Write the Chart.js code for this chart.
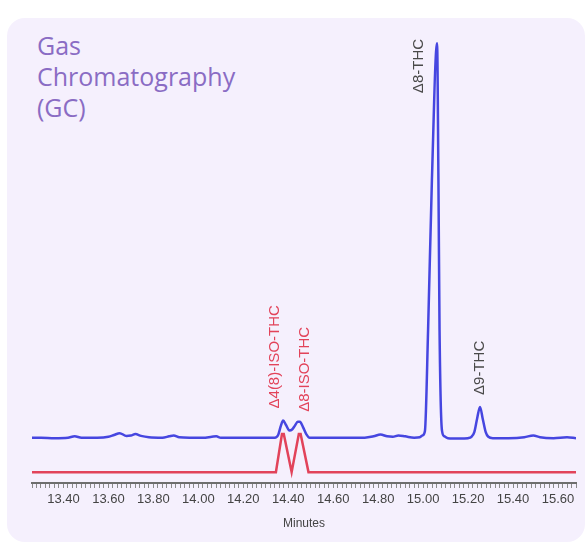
<!DOCTYPE html>
<html>
<head>
<meta charset="utf-8">
<title>Gas Chromatography (GC)</title>
<script src="https://cdn.jsdelivr.net/npm/chart.js@4.4.0/dist/chart.umd.min.js"></script>
<style>
	html, body { margin: 0; padding: 0; background: #fff; }
	#wrap { position: relative; width: 587px; height: 546px; overflow: hidden; }
	#panel { position: absolute; left: 7px; top: 18px; width: 578px; height: 524px; background: #f5f0fd; border-radius: 18px; }
	#title { position: absolute; left: 37px; top: 30px; font-family: 'Open Sans', sans-serif; font-size: 25px; line-height: 31px; color: #8a6cc4; }
	canvas { position: absolute; left: 0; top: 0; }
</style>
</head>
<body>
<div id="wrap">
	<div id="panel"></div>
	<div id="title">Gas<br>Chromatography<br>(GC)</div>
	<canvas id="gcChart" width="587" height="546"></canvas>
</div>
<script>
// retention time (minutes) and detector response of the sample trace (blue)
const blueTimes = [
	13.26, 13.30, 13.36, 13.42, 13.45, 13.48, 13.55, 13.60, 13.625, 13.65,
	13.68, 13.70, 13.72, 13.745, 13.78, 13.84, 13.87, 13.89, 13.915, 13.96,
	14.02, 14.06, 14.08, 14.10, 14.18, 14.26, 14.34, 14.355, 14.367, 14.377,
	14.39, 14.405, 14.417, 14.43, 14.442, 14.452, 14.465, 14.48, 14.495, 14.56,
	14.66, 14.74, 14.78, 14.81, 14.84, 14.865, 14.89, 14.92, 14.96, 14.985,
	14.997, 15.008, 15.022, 15.039, 15.062, 15.068, 15.073, 15.084, 15.095, 15.11,
	15.16, 15.20, 15.215, 15.228, 15.24, 15.253, 15.265, 15.278, 15.29, 15.31,
	15.38, 15.45, 15.49, 15.52, 15.58, 15.64, 15.68
];
const blueValues = [
	10.0, 10.0, 9.9, 10.0, 10.3, 10.0, 10.0, 10.2, 10.6, 11.0,
	10.4, 10.5, 10.8, 10.4, 10.1, 10.0, 10.3, 10.5, 10.1, 10.0,
	10.0, 10.2, 10.3, 10.0, 10.0, 10.0, 10.0, 10.6, 12.6, 13.8,
	12.8, 11.6, 11.8, 12.7, 13.5, 13.5, 12.4, 10.8, 10.0, 10.0,
	10.0, 10.0, 10.3, 10.7, 10.3, 10.2, 10.5, 10.3, 10.0, 10.1,
	10.5, 11.5, 33.8, 66.9, 97.1, 66.9, 33.8, 11.5, 10.3, 9.9,
	9.8, 9.9, 10.2, 11.3, 14.2, 16.8, 14.2, 11.3, 10.2, 9.9,
	9.9, 10.1, 10.5, 10.1, 9.9, 10.1, 9.9
];

// reference trace (red)
const redTimes = [13.26, 14.345, 14.372, 14.38, 14.415, 14.447, 14.455, 14.49, 15.68];
const redValues = [2.4, 2.4, 10.8, 10.8, 2.4, 10.8, 10.8, 2.4, 2.4];

// named peaks
const peakNames = ['\u03944(8)-ISO-THC', '\u03948-ISO-THC', '\u03948-THC', '\u03949-THC'];
const peakTimes = [14.377, 14.452, 15.062, 15.253];
const peakValues = [13.8, 13.5, 97.1, 16.8];

const tickLabels = ['13.40', '13.60', '13.80', '14.00', '14.20', '14.40', '14.60', '14.80', '15.00', '15.20', '15.40', '15.60'];

// label placement (pixels from the peak top) and colours
const peakLabelStyle = [
	{ dx: -8, dy: -12, color: '#e2435a' },
	{ dx: 5, dy: -10, color: '#e2435a' },
	{ dx: -18, dy: 50, color: '#4a4a4a' },
	{ dx: 0, dy: -12, color: '#4a4a4a' }
];

function toPoints(times, values) {
	return times.map((t, i) => ({ x: t, y: values[i] }));
}

const peakLabelPlugin = {
	id: 'peakLabels',
	afterDatasetsDraw(chart) {
		const { ctx, scales } = chart;
		ctx.save();
		ctx.font = '15px "Liberation Sans", sans-serif';
		ctx.textAlign = 'left';
		ctx.textBaseline = 'middle';
		for (let i = 0; i < peakNames.length; i++) {
			const st = peakLabelStyle[i];
			const px = scales.x.getPixelForValue(peakTimes[i]) + st.dx;
			const py = scales.y.getPixelForValue(peakValues[i]) + st.dy;
			ctx.save();
			ctx.translate(px, py);
			ctx.rotate(-Math.PI / 2);
			ctx.fillStyle = st.color;
			ctx.fillText(peakNames[i], 0, 0);
			ctx.restore();
		}
		ctx.restore();
	}
};

function chartInit(canvas) {
	const ctx = document.getElementById(canvas);
	if (!ctx) {
		return;
	}

	new Chart(ctx, {
		type: 'line',
		data: {
			datasets: [{
				data: toPoints(blueTimes, blueValues),
				borderColor: '#4646e0',
				borderWidth: 2.5,
				pointRadius: 0,
				fill: false,
				cubicInterpolationMode: 'monotone'
			}, {
				data: toPoints(redTimes, redValues),
				borderColor: '#e2435a',
				borderWidth: 2.5,
				pointRadius: 0,
				fill: false,
				tension: 0
			}]
		},
		options: {
			responsive: false,
			animation: false,
			layout: {
				padding: { left: 32, right: 11, top: 30, bottom: 15 }
			},
			plugins: {
				legend: { display: false },
				tooltip: { enabled: false }
			},
			scales: {
				x: {
					type: 'linear',
					min: 13.26,
					max: 15.68,
					border: { display: true, color: '#6e6e6e', width: 2 },
					grid: {
						drawOnChartArea: false,
						drawTicks: true,
						tickLength: 5,
						color: '#8a8a8a'
					},
					ticks: {
						stepSize: 0.02,
						autoSkip: false,
						maxRotation: 0,
						minRotation: 0,
						padding: 4,
						color: '#444',
						font: { family: 'Liberation Sans', size: 13 },
						callback: function(value) {
							const s = Number(value).toFixed(2);
							return tickLabels.includes(s) ? s : '';
						}
					},
					title: {
						display: true,
						text: 'Minutes',
						color: '#444',
						font: { family: 'Liberation Sans', size: 12 },
						padding: { top: 5, bottom: 0 }
					}
				},
				y: {
					display: false,
					min: 0,
					max: 100
				}
			}
		},
		plugins: [peakLabelPlugin]
	});
}

chartInit('gcChart');
</script>
</body>
</html>
